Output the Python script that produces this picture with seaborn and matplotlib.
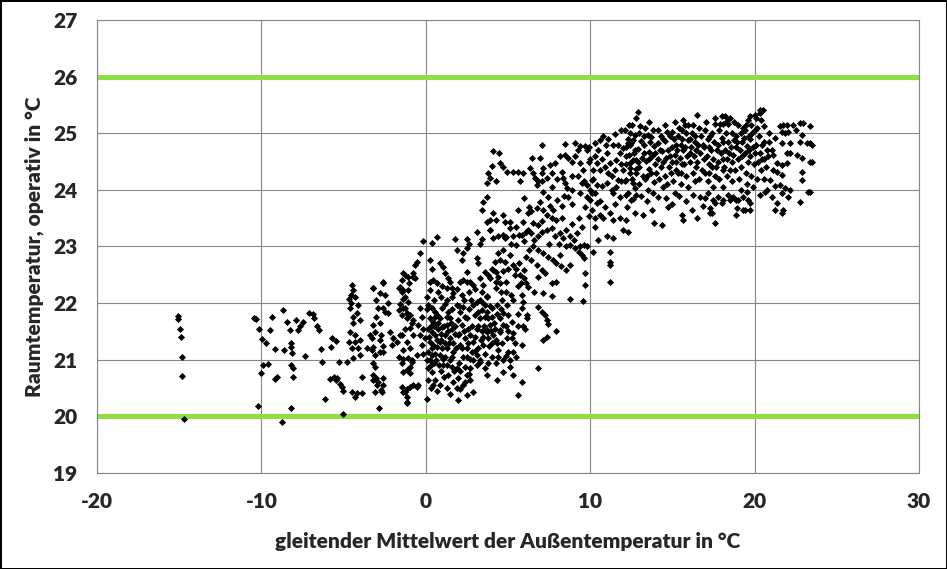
"""Raumtemperatur (operativ) über gleitendem Mittelwert der Außentemperatur."""

import matplotlib

matplotlib.use("Agg")
import matplotlib.pyplot as plt
import pandas as pd
import seaborn as sns


X_LABEL = "gleitender Mittelwert der Außentemperatur in °C"
Y_LABEL = "Raumtemperatur, operativ in °C"
X_TICKS = [-20, -10, 0, 10, 20, 30]
Y_TICKS = [19, 20, 21, 22, 23, 24, 25, 26, 27]
COMFORT_LIMITS = [20, 26]

# (Außentemperatur, Raumtemperatur), grouped by range
PTS_COLD = [
    (-15.1, 21.78), (-15.05, 21.72), (-14.95, 21.55), (-14.9, 21.4), (-14.85, 21.05),
    (-14.8, 20.72), (-14.7, 19.95),
    (-10.45, 21.73), (-10.3, 21.72), (-10.15, 21.55), (-9.96, 21.36), (-9.7, 21.3),
    (-10.0, 20.76), (-9.9, 20.9), (-9.6, 20.93), (-10.2, 20.18), (-9.35, 21.75),
    (-9.5, 21.52), (-9.17, 21.19), (-9.17, 20.66), (-9.05, 20.7), (-8.7, 21.88),
    (-8.45, 21.66), (-8.75, 19.9), (-8.6, 21.17), (-8.27, 21.52), (-8.2, 21.3),
    (-8.2, 21.22), (-8.15, 21.12), (-8.2, 20.9), (-8.1, 20.86), (-8.1, 20.7),
    (-8.2, 20.15), (-7.9, 21.7), (-7.8, 21.52), (-7.65, 21.6), (-7.47, 21.66),
    (-7.35, 21.07), (-7.1, 21.82), (-6.86, 21.8), (-6.8, 21.73), (-6.62, 21.6),
    (-6.5, 21.52), (-6.37, 21.19), (-6.3, 20.96), (-6.13, 20.3), (-5.83, 20.66),
    (-5.46, 20.64), (-5.7, 21.38), (-5.46, 21.33), (-5.77, 21.22), (-5.3, 20.96),
    (-5.2, 20.57), (-5.1, 20.52), (-5.04, 20.45), (-5.04, 20.04),
]

PTS_WINTER = [
    (-4.49, 22.32), (-4.43, 22.23), (-4.55, 22.14), (-4.3, 22.1), (-4.67, 22.07),
    (-4.55, 22.0), (-4.1, 21.96), (-4.6, 21.91), (-4.2, 21.82), (-4.4, 21.75),
    (-4.0, 21.7), (-4.43, 21.65), (-4.6, 21.49), (-4.3, 21.43), (-4.0, 21.35),
    (-4.7, 21.32), (-4.3, 21.32), (-4.5, 21.2), (-4.1, 21.2), (-4.8, 20.96),
    (-4.4, 21.03), (-4.0, 21.08), (-5.4, 20.67), (-5.6, 20.69), (-4.5, 20.43),
    (-4.2, 20.41), (-3.9, 20.41), (-4.3, 20.34), (-3.9, 20.69),
    (-3.2, 22.27), (-2.6, 22.35), (-2.8, 22.18), (-2.5, 22.14), (-3.0, 22.05),
    (-2.3, 22.0), (-2.9, 21.91), (-2.6, 21.91), (-2.3, 21.82), (-3.0, 21.75),
    (-2.8, 21.65), (-3.1, 21.49), (-3.4, 21.43), (-2.7, 21.43), (-2.8, 21.35),
    (-3.2, 21.22), (-3.6, 21.2), (-3.3, 21.17), (-2.6, 21.25), (-2.8, 21.13),
    (-3.1, 21.08), (-3.2, 20.94), (-3.1, 20.87), (-3.0, 20.67), (-3.2, 20.64),
    (-2.9, 20.6), (-3.1, 20.43), (-2.6, 20.55), (-2.7, 20.46), (-2.85, 20.14),
    (-2.2, 21.49), (-2.0, 21.38), (-2.05, 21.26), (-3.19, 22.26), (-2.58, 22.38),
    (-2.48, 21.85), (-3.19, 21.61), (-3.29, 21.38), (-2.58, 21.14), (-3.19, 20.73),
    (-2.58, 20.67), (-2.98, 20.55), (-2.68, 20.43),
    (-1.6, 22.27), (-1.45, 22.2), (-1.27, 22.1), (-1.45, 22.4), (-1.27, 22.5),
    (-1.1, 22.46), (-1.0, 22.35), (-0.8, 22.46), (-1.1, 22.23), (-1.1, 22.02),
    (-1.27, 21.91), (-1.6, 21.88), (-1.45, 21.79), (-1.15, 21.73), (-0.85, 21.65),
    (-0.96, 21.56), (-1.45, 21.43), (-1.75, 21.31), (-1.15, 21.31), (-0.96, 21.2),
    (-1.4, 21.17), (-1.6, 21.05), (-1.1, 21.03), (-0.85, 20.99), (-1.45, 20.94),
    (-0.96, 20.87), (-1.15, 20.82), (-0.96, 20.76), (-1.45, 20.52), (-0.96, 20.52),
    (-0.55, 20.52), (-1.27, 20.43), (-1.15, 20.34), (-1.15, 20.23), (-0.5, 20.55),
    (-0.55, 22.73), (-0.65, 22.67), (-1.36, 22.53), (-0.75, 22.53), (-0.65, 22.44),
    (-1.56, 22.29), (-1.36, 22.23), (-0.35, 22.88), (-0.14, 23.1),
    (-1.36, 22.08), (-1.56, 21.99), (-1.36, 21.91), (-1.16, 21.82), (-0.96, 21.79),
    (-0.75, 21.7), (-1.26, 21.55), (-1.56, 21.44), (-1.97, 21.38), (-0.75, 21.44),
    (-1.36, 21.02), (-0.55, 21.08), (-0.85, 20.96), (-1.36, 20.79), (-1.16, 20.49),
    (-0.75, 20.55), (-1.36, 20.43), (-1.16, 20.26), (-0.35, 21.91), (-0.25, 21.76),
    (-0.45, 21.61), (-0.14, 21.55), (-0.35, 21.44), (-0.04, 21.38), (-0.25, 21.26),
    (-0.14, 21.11),
]

PTS_SPRING = [
    (0.36, 23.06), (0.67, 23.17), (1.78, 23.14), (2.49, 23.14), (2.6, 23.05),
    (2.49, 22.97), (3.1, 23.26), (3.4, 23.14), (3.3, 23.05), (3.9, 23.29),
    (4.7, 23.2), (4.9, 23.17), (5.2, 23.05), (5.5, 23.03), (5.84, 23.2),
    (6.0, 23.1), (6.1, 23.26), (0.26, 22.76), (0.36, 22.61), (0.26, 22.38),
    (0.26, 22.23), (0.46, 22.41), (0.87, 22.7), (1.07, 22.64), (1.17, 22.53),
    (1.38, 22.44), (1.48, 22.38), (1.58, 22.26), (1.68, 22.17), (1.28, 22.26),
    (0.77, 22.2), (1.88, 22.94), (2.19, 22.76), (2.29, 22.88), (2.09, 22.38),
    (2.29, 22.41), (2.49, 22.38), (2.7, 22.38), (2.9, 22.32), (3.1, 22.79),
    (3.2, 22.7), (3.6, 22.55), (3.8, 22.5), (3.9, 22.44), (4.3, 22.38),
    (4.5, 22.35), (4.4, 22.88), (4.7, 22.94), (4.5, 22.76), (4.8, 22.73),
    (5.1, 22.85), (5.3, 22.67), (5.5, 22.61), (5.74, 22.5), (6.0, 22.44),
    (6.1, 22.35), (4.3, 22.26), (4.6, 22.2), (4.9, 22.2), (5.2, 22.14),
    (5.33, 22.05), (5.84, 22.14), (5.94, 22.02), (5.84, 21.91), (6.14, 21.79),
    (0.16, 21.97), (0.36, 21.91), (0.57, 21.85), (0.26, 21.73), (0.46, 21.67),
    (0.67, 21.79), (0.87, 21.73), (0.16, 21.55), (0.36, 21.49), (0.57, 21.44),
    (0.77, 21.55), (0.97, 21.58), (0.26, 21.32), (0.46, 21.26), (0.67, 21.23),
    (0.87, 21.32), (0.16, 21.14), (0.36, 21.08), (0.57, 21.11), (0.87, 21.08),
    (1.07, 21.02), (0.16, 20.85), (0.36, 20.79), (0.16, 20.64), (0.46, 20.55),
    (0.97, 21.91), (1.17, 21.99), (1.38, 21.85), (1.48, 21.73), (1.28, 21.61),
    (1.58, 21.55), (1.17, 21.44), (1.48, 21.38), (1.68, 21.29), (1.28, 21.2),
    (1.68, 21.14), (1.48, 20.99), (1.07, 20.91), (1.58, 20.88), (1.88, 20.85),
    (1.38, 20.73), (1.68, 20.61), (1.99, 20.67), (2.09, 20.49), (1.99, 20.29),
    (2.29, 20.55), (2.49, 20.73), (2.7, 20.64), (2.9, 20.43), (2.49, 20.38),
    (2.39, 20.88), (2.7, 20.85), (3.1, 20.91), (3.3, 20.96), (3.61, 20.85),
    (3.71, 20.73), (4.32, 20.64), (4.72, 20.79), (5.33, 20.73), (5.84, 20.61),
    (5.64, 20.38), (1.88, 21.97), (2.09, 21.85), (2.29, 21.94), (2.49, 21.73),
    (2.19, 21.61), (2.59, 21.55), (1.99, 21.44), (2.39, 21.38), (2.7, 21.44),
    (2.09, 21.26), (2.49, 21.2), (2.8, 21.14), (2.29, 21.05), (2.7, 21.02),
    (3.1, 21.08), (2.9, 21.97), (3.1, 22.02), (3.3, 22.05), (3.61, 21.97),
    (3.71, 21.85), (3.81, 21.73), (3.91, 21.61), (3.71, 21.49), (3.81, 21.38),
    (3.51, 21.26), (3.2, 21.2), (2.9, 21.32), (3.1, 21.55), (3.3, 21.73),
    (3.0, 21.79), (3.4, 21.88), (4.01, 21.91), (4.32, 21.97), (4.62, 22.05),
    (4.93, 21.97), (4.72, 21.82), (4.52, 21.73), (4.22, 21.55), (4.52, 21.49),
    (4.72, 21.61), (5.03, 21.79), (5.23, 21.67), (4.93, 21.38), (4.62, 21.29),
    (5.23, 21.38), (5.43, 21.29), (5.84, 21.26), (5.03, 21.14), (5.13, 20.99),
    (4.32, 21.29), (4.11, 21.44), (4.42, 21.05), (6.04, 21.55), (6.14, 21.73),
    (2.2, 22.15), (2.6, 22.2), (3.0, 22.25), (3.4, 22.2), (3.7, 22.1),
    (3.9, 21.95), (4.0, 21.75), (3.95, 21.5), (3.85, 21.25), (3.6, 21.1),
    (3.3, 21.0), (2.9, 21.0), (2.5, 21.05), (2.2, 21.2), (2.0, 21.45),
    (1.95, 21.7), (2.05, 21.95), (2.3, 22.05), (0.5, 21.6), (0.7, 21.35),
    (0.9, 21.45), (1.1, 21.6), (1.3, 21.75), (1.0, 21.2), (1.2, 21.05),
    (0.4, 21.2), (0.2, 21.4), (0.6, 21.0), (0.8, 20.9), (1.4, 21.3),
    (1.6, 21.9), (1.8, 21.6), (1.1, 20.7), (0.3, 20.5), (0.7, 20.45),
    (1.3, 20.5), (1.5, 20.4), (1.9, 20.5), (2.4, 20.6), (2.1, 20.8),
    (0.5, 22.05), (0.9, 22.1), (1.3, 22.05), (1.6, 22.1), (0.1, 22.1),
    (0.05, 21.9), (0.05, 21.0), (0.1, 20.3), (0.3, 20.9), (3.5, 22.32),
    (3.7, 22.12), (3.5, 22.0), (3.6, 21.76), (3.7, 21.53), (3.5, 21.41),
    (4.0, 21.29), (4.3, 21.35), (4.9, 21.06), (5.3, 21.14), (4.7, 21.0),
    (4.3, 20.94), (5.1, 20.88), (5.9, 21.59), (5.6, 21.59), (5.3, 21.47),
    (4.5, 21.53), (4.4, 21.17),
    (0.3, 21.6), (0.55, 21.75), (0.75, 21.65), (0.95, 21.35), (1.15, 21.3),
    (1.35, 21.5), (1.55, 21.65), (1.75, 21.45), (1.85, 21.2), (1.6, 21.05),
    (1.3, 20.9), (0.9, 20.8), (0.5, 20.95), (0.25, 21.0), (2.4, 21.75),
    (2.6, 21.9), (2.8, 21.6), (3.0, 21.4), (3.2, 21.6), (3.4, 21.5),
    (3.55, 21.6), (3.2, 21.85), (2.75, 22.05), (2.55, 21.3), (2.35, 21.5),
    (3.0, 21.15), (3.35, 21.35), (4.15, 21.65), (4.35, 21.8), (4.6, 21.9),
    (4.85, 21.6), (5.0, 21.5), (0.7, 22.35), (1.0, 22.3), (1.9, 22.25),
    (2.5, 22.55), (3.3, 22.45), (4.0, 22.6), (4.3, 22.55), (5.0, 22.6),
    (5.6, 22.3), (5.6, 21.8), (5.5, 21.05), (4.05, 21.05), (3.8, 20.95),
    (2.6, 20.75), (2.0, 20.95), (1.7, 20.8), (0.55, 20.65), (0.85, 20.55),
]

PTS_TRANSITION = [
    (4.11, 24.68), (4.48, 24.65), (4.01, 24.42), (4.52, 24.48), (4.72, 24.41),
    (3.81, 24.29), (3.91, 24.21), (3.71, 24.12), (4.27, 24.15), (4.92, 24.32),
    (5.33, 24.32), (5.63, 24.32), (5.94, 24.29), (5.73, 24.15), (6.34, 24.38),
    (6.44, 24.56), (6.95, 24.56), (6.55, 24.29), (6.65, 24.21), (6.85, 24.15),
    (7.05, 24.29), (7.15, 24.38), (7.56, 24.44), (7.86, 24.47), (7.66, 24.29),
    (7.36, 24.21), (7.05, 24.15), (6.75, 24.09), (7.15, 23.97), (7.46, 23.88),
    (7.05, 24.8), (8.47, 24.81), (9.08, 24.82), (9.39, 24.77), (9.69, 24.78),
    (9.79, 24.71), (8.17, 24.59), (8.47, 24.62), (8.68, 24.56), (8.88, 24.5),
    (8.27, 24.32), (8.37, 24.21), (8.47, 24.12), (8.57, 24.03), (8.88, 24.0),
    (8.68, 23.88), (7.97, 23.82), (8.27, 23.71), (7.76, 23.65), (9.39, 24.47),
    (9.59, 24.35), (9.28, 24.24), (9.49, 24.12), (9.79, 24.09), (9.39, 23.94),
    (9.79, 23.88), (9.99, 23.82),
    (3.5, 23.79), (3.7, 23.88), (4.1, 23.59), (3.4, 23.65), (3.9, 23.47),
    (3.7, 23.44), (4.3, 23.47), (4.7, 23.56), (4.8, 23.44), (5.1, 23.44),
    (3.9, 23.29), (4.1, 23.15), (4.4, 23.18), (4.8, 23.15), (5.1, 23.32),
    (5.5, 23.35), (5.3, 23.18), (5.7, 23.21), (5.9, 23.44), (6.2, 23.59),
    (6.4, 23.62), (6.75, 23.68), (6.95, 23.79), (7.15, 23.65), (7.35, 23.56),
    (7.65, 23.5), (7.95, 23.47), (7.55, 23.71), (6.5, 23.41), (6.85, 23.38),
    (6.2, 23.29), (6.4, 23.23), (6.6, 23.12), (6.85, 23.18), (7.05, 23.26),
    (7.35, 23.29), (7.65, 23.32), (7.85, 23.18), (8.15, 23.23), (8.35, 23.15),
    (8.55, 23.29), (8.8, 23.18), (9.0, 23.12), (9.2, 23.23), (8.8, 23.03),
    (8.55, 23.0), (9.1, 22.97), (9.4, 23.0), (9.6, 23.03), (9.8, 23.0),
    (10.2, 22.91), (9.3, 22.91), (9.5, 22.85), (9.6, 22.79), (8.15, 22.85),
    (7.95, 22.71), (8.25, 22.65), (8.55, 22.59), (8.8, 22.68), (7.75, 22.76),
    (7.45, 22.82), (7.15, 22.88), (6.85, 22.94), (6.5, 23.0), (6.3, 22.94),
    (6.1, 22.82), (6.4, 22.76), (6.75, 22.68), (7.05, 22.59), (6.85, 22.47),
    (7.25, 22.53), (6.0, 22.59), (5.7, 22.71), (5.4, 22.5), (4.2, 22.73),
    (4.1, 22.59), (4.7, 22.56), (4.4, 22.47), (4.9, 22.38), (5.8, 22.35),
    (6.2, 22.29), (6.6, 22.2), (7.15, 22.17), (7.65, 22.35), (7.65, 22.12),
    (7.95, 22.38), (8.8, 22.07), (9.59, 22.03), (9.69, 22.53), (9.69, 22.32),
    (6.85, 21.94), (7.05, 21.85), (7.25, 21.79), (7.35, 21.7), (7.45, 21.64),
    (7.95, 21.5), (7.35, 21.41), (7.15, 21.35), (6.85, 20.85),
    (10.3, 24.82), (10.6, 24.88), (10.5, 24.71), (10.3, 24.59), (10.4, 24.47),
    (10.2, 24.35), (10.6, 24.35), (10.9, 24.41), (10.1, 24.18), (10.4, 24.09),
    (10.3, 23.94), (10.0, 24.0), (10.7, 24.06), (11.0, 24.12), (11.3, 24.24),
    (11.5, 24.35), (11.2, 24.47), (11.6, 24.53), (11.8, 24.65), (12.0, 24.74),
    (12.3, 24.82), (12.6, 24.88), (12.2, 24.59), (12.4, 24.47), (12.8, 24.53),
    (12.0, 24.35), (11.7, 24.18), (12.2, 24.18), (12.6, 24.12), (12.8, 24.29),
    (11.4, 23.94), (11.8, 23.88), (12.2, 23.91), (12.5, 23.82), (12.8, 23.91),
    (10.4, 23.76), (10.1, 23.65), (9.9, 23.53), (10.3, 23.5), (10.6, 23.56),
    (10.3, 23.35), (10.8, 23.5), (11.2, 23.59), (11.4, 23.47), (11.8, 23.5),
    (12.2, 23.47), (12.0, 23.29), (12.3, 23.26), (11.0, 23.18), (11.4, 23.15),
    (10.5, 23.12), (11.2, 22.91), (11.2, 22.73), (11.2, 22.67), (11.2, 22.38),
    (10.8, 24.95), (11.1, 24.9), (11.4, 24.8), (11.0, 24.65), (11.5, 24.98),
    (11.9, 25.05), (10.7, 24.55), (11.9, 24.45),
    (8.0, 24.2), (8.9, 24.25), (9.1, 24.6), (9.9, 24.5), (9.6, 24.15),
    (9.7, 23.7), (8.9, 23.75), (8.4, 23.9), (7.7, 24.05), (8.3, 23.5),
    (9.3, 23.5), (9.5, 23.35), (8.9, 23.4), (8.1, 23.05), (7.5, 23.05),
    (7.1, 23.45), (6.3, 23.7), (6.0, 23.85), (5.6, 23.65), (9.95, 24.75),
    (10.0, 24.55), (10.2, 24.2), (10.6, 23.8), (10.9, 23.7), (11.1, 24.3),
    (11.3, 24.0), (11.6, 24.05), (11.5, 23.75), (11.9, 24.15), (11.7, 24.8),
    (10.95, 24.8), (9.25, 24.7), (10.1, 23.95),
]

PTS_SUMMER = [
    (12.1, 25.05), (12.3, 24.9), (12.15, 24.75), (12.35, 24.62), (12.2, 24.45),
    (12.4, 24.3), (12.1, 24.15), (12.3, 23.95), (12.25, 23.7),
    (12.55, 25.15), (12.7, 24.97), (12.5, 24.83), (12.75, 24.7), (12.6, 24.52),
    (12.8, 24.36), (12.55, 24.2), (12.7, 24.04), (12.6, 23.84), (12.75, 23.6),
    (12.9, 25.37), (12.8, 25.27), (13.05, 25.12), (12.95, 25.0), (13.1, 24.86),
    (12.9, 24.73), (13.15, 24.56), (13.0, 24.41), (13.2, 24.24), (12.95, 24.1),
    (13.1, 23.9), (13.2, 23.56),
    (13.35, 25.1), (13.5, 24.96), (13.3, 24.8), (13.55, 24.66), (13.4, 24.51),
    (13.6, 24.36), (13.35, 24.19), (13.5, 24.0), (13.45, 23.8),
    (13.8, 25.06), (13.7, 24.93), (13.9, 24.78), (13.75, 24.6), (13.95, 24.45),
    (13.7, 24.3), (13.9, 24.14), (13.8, 23.95), (13.9, 23.41), (13.75, 23.65),
    (14.1, 25.06), (14.3, 24.95), (14.15, 24.82), (14.35, 24.68), (14.1, 24.55),
    (14.3, 24.4), (14.2, 24.2), (14.4, 24.05), (14.15, 23.88), (14.35, 23.38),
    (14.65, 25.03), (14.55, 24.86), (14.75, 24.71), (14.6, 24.56), (14.8, 24.41),
    (14.55, 24.25), (14.7, 24.1), (14.6, 23.85), (14.75, 23.7),
    (14.95, 25.03), (15.1, 24.9), (14.95, 24.76), (15.15, 24.61), (15.0, 24.5),
    (15.2, 24.35), (15.05, 24.15), (15.15, 23.95), (14.95, 23.75),
    (15.4, 25.1), (15.57, 25.06), (15.35, 24.95), (15.5, 24.8), (15.3, 24.7),
    (15.45, 24.56), (15.6, 24.45), (15.35, 24.3), (15.5, 24.1), (15.4, 23.9),
    (15.57, 23.56), (15.67, 23.47),
    (15.67, 25.24), (15.77, 25.15), (15.97, 25.15), (15.8, 25.0), (15.95, 24.88),
    (15.75, 24.75), (15.9, 24.6), (15.7, 24.45), (15.85, 24.25), (15.95, 24.05),
    (15.8, 23.8),
    (16.2, 25.0), (16.35, 24.85), (16.15, 24.75), (16.3, 24.6), (16.1, 24.5),
    (16.25, 24.3), (16.4, 24.15), (16.27, 23.91), (16.48, 23.5), (16.2, 23.65),
    (16.48, 25.33), (16.6, 25.1), (16.75, 24.95), (16.55, 24.8), (16.7, 24.65),
    (16.5, 24.5), (16.8, 24.35), (16.6, 24.2), (16.68, 23.88), (16.88, 23.71),
    (16.98, 23.85),
    (17.0, 25.05), (17.15, 24.9), (16.95, 24.75), (17.1, 24.6), (17.2, 24.45),
    (17.0, 24.3), (17.15, 24.15), (17.19, 23.94), (17.29, 23.68), (17.39, 23.59),
    (17.6, 25.27), (17.6, 25.17), (17.4, 25.0), (17.55, 24.85), (17.35, 24.7),
    (17.5, 24.55), (17.4, 24.4), (17.6, 24.25), (17.45, 24.05), (17.49, 23.82),
    (17.59, 23.76), (17.59, 23.41), (17.3, 23.59),
    (17.9, 25.17), (18.0, 25.31), (17.85, 25.05), (18.0, 24.92), (17.8, 24.8),
    (17.95, 24.65), (17.75, 24.5), (18.05, 24.35), (17.85, 24.2), (17.79, 23.88),
    (18.0, 23.76),
    (18.1, 25.17), (18.2, 25.3), (18.3, 25.21), (18.4, 25.17), (18.5, 25.27),
    (18.25, 25.0), (18.4, 24.85), (18.2, 24.7), (18.35, 24.55), (18.15, 24.4),
    (18.3, 24.25), (18.1, 24.05), (18.1, 23.82), (18.4, 23.91), (18.5, 23.82),
    (18.6, 25.0), (18.75, 24.88), (18.55, 24.75), (18.7, 24.62), (18.6, 24.5),
    (18.8, 24.35), (18.65, 24.15), (18.71, 23.88), (18.9, 23.56), (18.91, 23.68),
    (18.9, 23.82),
    (19.0, 25.15), (19.15, 25.0), (18.95, 24.85), (19.1, 24.7), (19.0, 24.55),
    (19.2, 24.4), (19.05, 24.2), (19.15, 24.0), (19.01, 23.82), (19.3, 23.65),
    (19.42, 23.65),
    (19.4, 25.05), (19.5, 25.15), (19.35, 24.92), (19.55, 24.78), (19.4, 24.65),
    (19.6, 24.5), (19.45, 24.3), (19.55, 24.1), (19.32, 23.88), (19.52, 23.97),
    (19.62, 23.82), (19.7, 23.65), (19.72, 23.76),
    (19.6, 25.24), (19.7, 25.3), (19.8, 25.15), (19.85, 25.0), (19.7, 24.9),
    (19.9, 24.75), (19.75, 24.6), (19.95, 24.45), (19.8, 24.25), (19.9, 24.05),
    (20.0, 25.33), (20.1, 25.27), (20.3, 25.35), (20.3, 25.41), (20.5, 25.41),
    (20.4, 25.24), (20.6, 25.12), (20.15, 25.1), (20.25, 24.95), (20.9, 25.0),
    (20.1, 24.8), (20.3, 24.65), (20.2, 24.5), (20.4, 24.35), (20.15, 24.2),
    (20.35, 23.91),
    (20.6, 24.85), (20.75, 24.7), (20.55, 24.55), (20.7, 24.4), (20.6, 24.2),
    (20.65, 23.97), (20.75, 24.0), (20.95, 24.18),
    (21.05, 24.71), (21.15, 24.62), (21.35, 24.47), (21.65, 24.44), (21.95, 24.47),
    (21.15, 24.35), (21.35, 24.32), (21.65, 24.26), (21.25, 24.06), (21.55, 24.09),
    (21.85, 24.03), (22.15, 24.0), (21.05, 23.88), (21.65, 23.94), (21.35, 23.76),
    (21.75, 23.65), (22.05, 23.88), (21.25, 23.65), (21.65, 23.59),
    (21.25, 24.91), (21.55, 25.12), (21.75, 25.15), (21.95, 25.15), (22.05, 25.03),
    (21.85, 25.0), (21.65, 24.82), (21.65, 25.03), (22.15, 24.82), (21.95, 24.65),
    (22.15, 24.65), (22.35, 25.15),
    (22.55, 25.06), (22.57, 24.62), (22.77, 25.18), (22.97, 25.18), (22.87, 24.97),
    (22.77, 24.85), (22.87, 24.56), (22.87, 24.32), (22.87, 24.18), (22.77, 23.79),
    (23.17, 24.82), (23.37, 24.82), (23.37, 25.12), (23.47, 24.79), (23.37, 24.5),
    (23.47, 24.5), (23.37, 23.97), (23.27, 23.97),
    (12.45, 25.0), (12.4, 24.8), (12.65, 24.65), (12.45, 24.38), (12.9, 24.5),
    (13.25, 24.65), (13.25, 24.95), (13.65, 24.85), (13.6, 24.55), (13.45, 24.25),
    (13.95, 24.65), (14.0, 24.3), (14.25, 24.7), (14.45, 24.9), (14.45, 24.5),
    (14.85, 24.95), (14.85, 24.6), (14.9, 24.3), (15.25, 24.8), (15.2, 24.5),
    (15.65, 24.7), (15.6, 24.9), (15.55, 24.3), (16.05, 24.9), (16.05, 24.65),
    (16.45, 24.7), (16.4, 24.95), (16.45, 24.4), (16.85, 24.8), (16.9, 24.55),
    (17.25, 24.75), (17.3, 24.95), (17.25, 24.3), (17.7, 24.7), (17.65, 24.4),
    (18.1, 24.55), (18.05, 24.85), (18.45, 24.65), (18.5, 24.35), (18.85, 24.95),
    (18.85, 24.75), (19.25, 24.85), (19.25, 24.6), (19.3, 25.1), (19.65, 24.7),
    (19.65, 24.95), (20.05, 24.65), (20.05, 25.05), (20.45, 24.8), (20.45, 24.55),
    (20.8, 24.6), (20.85, 24.85), (12.35, 25.15), (13.55, 25.2), (14.55, 25.15),
    (15.15, 25.2), (17.05, 25.2), (18.75, 25.2), (16.25, 25.15),
]

GREEN = "#90DE40"
GRID_GREY = "#868686"


def main() -> None:
    sns.set_style("white")
    plt.rcParams["font.family"] = ["Lato", "DejaVu Sans"]
    plt.rcParams["axes.unicode_minus"] = False

    points = PTS_COLD + PTS_WINTER + PTS_SPRING + PTS_TRANSITION + PTS_SUMMER
    data = pd.DataFrame(points, columns=["t_aussen", "t_raum"])

    fig = plt.figure(figsize=(9.47, 5.69), dpi=100)
    ax = fig.add_axes([0.1024, 0.1687, 0.868, 0.7962])

    for limit in COMFORT_LIMITS:
        ax.axhline(limit, color=GREEN, linewidth=3.6, zorder=2)

    sns.scatterplot(
        data=data,
        x="t_aussen",
        y="t_raum",
        marker="D",
        color="black",
        s=13,
        linewidth=0,
        zorder=3,
        ax=ax,
    )

    ax.set_xlim(-20, 30)
    ax.set_ylim(19, 27)
    ax.set_xticks(X_TICKS)
    ax.set_yticks(Y_TICKS)
    ax.grid(True, color=GRID_GREY, linewidth=0.8, zorder=0)
    ax.set_axisbelow(True)
    for spine in ax.spines.values():
        spine.set_color(GRID_GREY)
        spine.set_linewidth(0.8)

    ax.tick_params(axis="both", direction="out", length=6, width=0.8,
                   color=GRID_GREY, labelsize=15, pad=8)
    for label in ax.get_xticklabels() + ax.get_yticklabels():
        label.set_fontweight("heavy")

    ax.set_xlabel(X_LABEL, fontsize=15, fontweight="heavy", labelpad=15)
    ax.set_ylabel(Y_LABEL, fontsize=15, fontweight="heavy")
    ax.yaxis.set_label_coords(-0.064, 0.5)

    fig.patch.set_edgecolor("black")
    fig.patch.set_linewidth(2)
    fig.savefig("out.png", dpi=100, edgecolor=fig.get_edgecolor())
    plt.close(fig)


if __name__ == "__main__":
    main()
